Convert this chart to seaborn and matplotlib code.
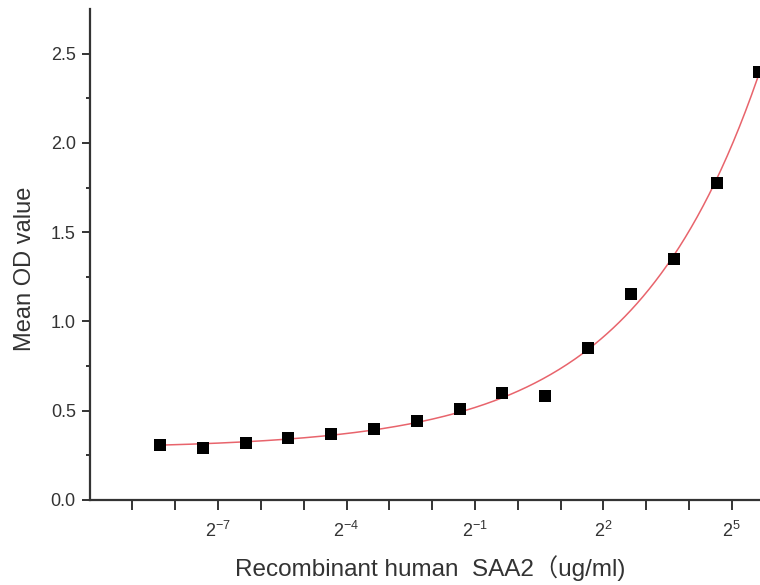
import numpy as np
import pandas as pd
import matplotlib
matplotlib.use("Agg")
import matplotlib.pyplot as plt
import seaborn as sns
from matplotlib.ticker import FixedLocator, FuncFormatter

# ==========================================
# Data (2-fold dilution series from 50 ug/ml)
# ==========================================
conc = [50 / 2 ** k for k in range(14, -1, -1)]
od_mean = [0.31, 0.29, 0.32, 0.35, 0.37, 0.40, 0.44, 0.51,
           0.60, 0.58, 0.85, 1.155, 1.35, 1.775, 2.395]
major_exp = [-7, -4, -1, 2, 5]

df = pd.DataFrame({"conc": conc, "od": od_mean})

# fit curve y = a + b * c^p (p by grid search, a/b by least squares)
c = np.array(conc)
y = np.array(od_mean)
best = None
for p in np.linspace(0.2, 1.5, 131):
    A = np.column_stack([np.ones_like(c), c ** p])
    coef, res, _, _ = np.linalg.lstsq(A, y, rcond=None)
    err = np.sum((A @ coef - y) ** 2)
    if best is None or err < best[0]:
        best = (err, p, coef)
_, p_fit, (a_fit, b_fit) = best
grid = np.logspace(np.log2(c.min()), np.log2(c.max()), 300, base=2)
fit_df = pd.DataFrame({"conc": grid, "od": a_fit + b_fit * grid ** p_fit})

# ==========================================
# Plot
# ==========================================
sns.set_theme(style="white")
plt.rcParams["font.family"] = ["Liberation Sans", "Noto Sans CJK SC"]
plt.rcParams["mathtext.fontset"] = "custom"
plt.rcParams["mathtext.rm"] = "Liberation Sans"
plt.rcParams["mathtext.it"] = "Liberation Sans:italic"
plt.rcParams["mathtext.bf"] = "Liberation Sans:bold"
dark = "#333333"

fig = plt.figure(figsize=(7.6, 5.85), dpi=100)
ax = fig.add_axes([0.118, 0.1453, 0.882, 0.8393])

sns.lineplot(data=fit_df, x="conc", y="od", ax=ax, color="#e8646c",
             linewidth=1.1, zorder=2)
sns.scatterplot(data=df, x="conc", y="od", ax=ax, marker="s", s=85,
                color="black", edgecolor="black", linewidth=0, zorder=3,
                clip_on=False)

ax.set_xscale("log", base=2)
ax.set_xlim(2 ** -10, 2 ** 5.66)
ax.set_ylim(0, 2.75)

ax.xaxis.set_major_locator(FixedLocator([2.0 ** e for e in major_exp]))
ax.xaxis.set_minor_locator(FixedLocator([2.0 ** e for e in range(-9, 6) if e not in major_exp]))
ax.xaxis.set_major_formatter(FuncFormatter(lambda v, pos: r"$\mathrm{2^{%d}}$" % round(np.log2(v))))
ax.xaxis.set_minor_formatter(FuncFormatter(lambda v, pos: ""))

ax.set_yticks([0.0, 0.5, 1.0, 1.5, 2.0, 2.5])
ax.yaxis.set_minor_locator(FixedLocator([0.25, 0.75, 1.25, 1.75, 2.25]))
ax.yaxis.set_major_formatter(FuncFormatter(lambda v, pos: f"{v:.1f}"))

for side in ["top", "right"]:
    ax.spines[side].set_visible(False)
for side in ["left", "bottom"]:
    ax.spines[side].set_color(dark)
    ax.spines[side].set_linewidth(1.6)

ax.tick_params(axis="x", which="both", direction="out", length=7, width=1.4,
               color=dark, labelcolor=dark, labelsize=13, pad=8)
ax.tick_params(axis="y", which="major", direction="out", length=6, width=1.4,
               color=dark, labelcolor=dark, labelsize=13, pad=4)
ax.tick_params(axis="y", which="minor", direction="out", length=3, width=1.4,
               color=dark)
ax.tick_params(left=True, bottom=True, which="both")

ax.set_xlabel("Recombinant human  SAA2（ug/ml)", fontsize=17.5, color=dark)
ax.set_ylabel("Mean OD value", fontsize=17, color=dark)
ax.xaxis.set_label_coords(0.508, -0.112)
ax.yaxis.set_label_coords(-0.08, 0.47)

fig.savefig("out.png", dpi=100)
